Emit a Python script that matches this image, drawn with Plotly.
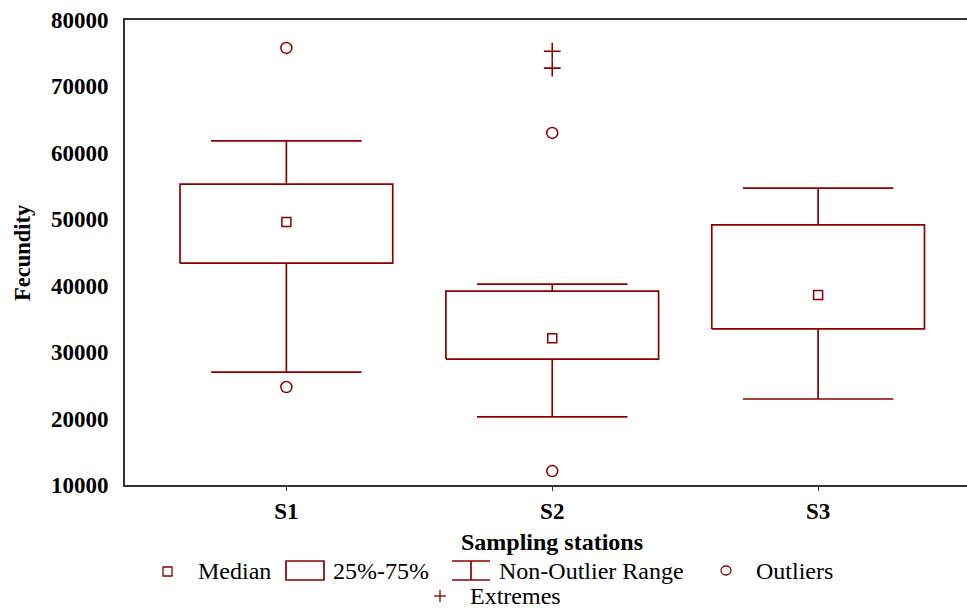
import plotly.graph_objects as go

# ---- data ----
stations = ["S1", "S2", "S3"]
medians = [49600, 32100, 38600]
q1 = [43400, 28950, 33500]
q3 = [55300, 39200, 49150]
whisker_low = [27000, 20250, 22950]
whisker_high = [61800, 40250, 54700]
outlier_station = ["S1", "S1", "S2", "S2"]
outlier_values = [24750, 75800, 12100, 63000]
extreme_station = ["S2", "S2"]
extreme_values = [72750, 75300]
y_ticks = [10000, 20000, 30000, 40000, 50000, 60000, 70000, 80000]

# ---- style ----
RED = "#8B0000"
AX = "#333333"
FONT = "Liberation Serif"
BOX_HALF = 0.4
CAP_HALF = 0.283
LW = 1.7

W, H = 967, 608
ML, MR, MT, MB = 125, 0, 20, 123
PW, PH = W - ML - MR, H - MT - MB

idx = {s: i for i, s in enumerate(stations)}

fig = go.Figure()

# boxes
bx, by = [], []
for i in range(len(stations)):
    bx += [i - BOX_HALF, i + BOX_HALF, i + BOX_HALF, i - BOX_HALF, i - BOX_HALF, None]
    by += [q1[i], q1[i], q3[i], q3[i], q1[i], None]
fig.add_trace(go.Scatter(x=bx, y=by, mode="lines", line=dict(color=RED, width=LW),
                         showlegend=False, hoverinfo="skip"))

# whiskers
wx, wy = [], []
for i in range(len(stations)):
    wx += [i, i, None, i - CAP_HALF, i + CAP_HALF, None, i, i, None, i - CAP_HALF, i + CAP_HALF, None]
    wy += [q3[i], whisker_high[i], None, whisker_high[i], whisker_high[i], None,
           q1[i], whisker_low[i], None, whisker_low[i], whisker_low[i], None]
fig.add_trace(go.Scatter(x=wx, y=wy, mode="lines", line=dict(color=RED, width=LW),
                         showlegend=False, hoverinfo="skip"))

# medians
fig.add_trace(go.Scatter(x=list(range(len(stations))), y=medians, mode="markers",
                         marker=dict(symbol="square-open", size=9, color=RED, line=dict(width=1.5)),
                         showlegend=False))
# outliers
fig.add_trace(go.Scatter(x=[idx[s] for s in outlier_station], y=outlier_values, mode="markers",
                         marker=dict(symbol="circle-open", size=11, color=RED, line=dict(width=1.5)),
                         showlegend=False))
# extremes
fig.add_trace(go.Scatter(x=[idx[s] for s in extreme_station], y=extreme_values, mode="markers",
                         marker=dict(symbol="cross-thin-open", size=12, color=RED, line=dict(width=1.6)),
                         showlegend=False))

fig.update_layout(
    width=W, height=H,
    margin=dict(l=ML, r=MR, t=MT, b=MB),
    paper_bgcolor="white", plot_bgcolor="white",
    font=dict(family=FONT, color="black", size=22),
    showlegend=False,
)
fig.update_xaxes(range=[-0.607, 2.56], tickvals=list(range(len(stations))), ticktext=stations,
                 showgrid=False, zeroline=False, showline=True, mirror=True,
                 linecolor=AX, linewidth=2, ticks="outside", ticklen=4, tickcolor=AX,
                 tickfont=dict(family=FONT, size=23, weight="bold"))
fig.update_yaxes(range=[10000, 80000], tickvals=y_ticks, ticktext=[str(v) for v in y_ticks],
                 showgrid=False, zeroline=False, showline=True, linecolor=AX, linewidth=2,
                 ticks="", ticklabelstandoff=10,
                 tickfont=dict(family=FONT, size=23, weight="bold"))


def px(x):
    return (x - ML) / PW


def py(y):
    return (MT + PH - y) / PH


ann = []
shapes = []
# axis titles
ann.append(dict(x=px(552), y=py(542), xref="paper", yref="paper", text="Sampling stations",
                showarrow=False, xanchor="center", yanchor="middle",
                font=dict(family=FONT, size=24, weight="bold")))
ann.append(dict(x=px(22), y=py(253), xref="paper", yref="paper", text="Fecundity",
                showarrow=False, xanchor="center", yanchor="middle", textangle=-90,
                font=dict(family=FONT, size=22.5, weight="bold")))

# custom legend
leg_font = dict(family=FONT, size=24, color="black")
ROW1, ROW2 = 571, 596
# Median
shapes.append(dict(type="rect", xref="paper", yref="paper", x0=px(163), x1=px(172),
                   y0=py(567), y1=py(576), line=dict(color=RED, width=1.3)))
ann.append(dict(x=px(196), y=py(ROW1), xref="paper", yref="paper", text="Median",
                showarrow=False, xanchor="left", yanchor="middle", font=leg_font))
# 25%-75%
shapes.append(dict(type="rect", xref="paper", yref="paper", x0=px(286), x1=px(324),
                   y0=py(561), y1=py(580), line=dict(color=RED, width=LW)))
ann.append(dict(x=px(331), y=py(ROW1), xref="paper", yref="paper", text="25%-75%",
                showarrow=False, xanchor="left", yanchor="middle", font=leg_font))
# Non-Outlier Range
for (x0, y0, x1, y1) in [(452, 561, 490, 561), (452, 580, 490, 580), (471, 561, 471, 580)]:
    shapes.append(dict(type="line", xref="paper", yref="paper", x0=px(x0), x1=px(x1),
                       y0=py(y0), y1=py(y1), line=dict(color=RED, width=LW)))
ann.append(dict(x=px(497), y=py(ROW1), xref="paper", yref="paper", text="Non-Outlier Range",
                showarrow=False, xanchor="left", yanchor="middle", font=leg_font))
# Outliers
shapes.append(dict(type="circle", xref="paper", yref="paper", x0=px(721), x1=px(731),
                   y0=py(566), y1=py(575), line=dict(color=RED, width=1.3)))
ann.append(dict(x=px(754), y=py(ROW1), xref="paper", yref="paper", text="Outliers",
                showarrow=False, xanchor="left", yanchor="middle", font=leg_font))
# Extremes
shapes.append(dict(type="line", xref="paper", yref="paper", x0=px(434), x1=px(446),
                   y0=py(596), y1=py(596), line=dict(color=RED, width=1.3)))
shapes.append(dict(type="line", xref="paper", yref="paper", x0=px(440), x1=px(440),
                   y0=py(590), y1=py(602), line=dict(color=RED, width=1.3)))
ann.append(dict(x=px(468), y=py(ROW2), xref="paper", yref="paper", text="Extremes",
                showarrow=False, xanchor="left", yanchor="middle", font=leg_font))

fig.update_layout(annotations=ann, shapes=shapes)

fig.write_html("out.html")
